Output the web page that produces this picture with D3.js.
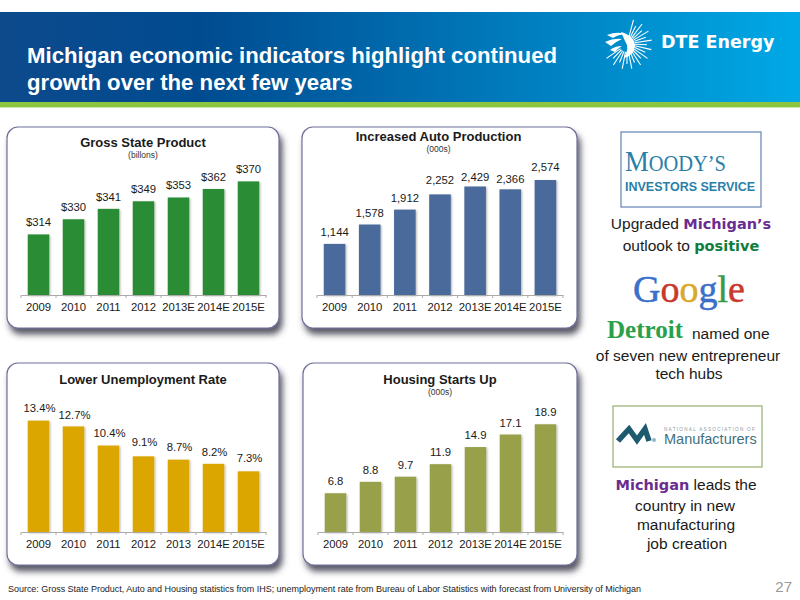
<!DOCTYPE html>
<html>
<head>
<meta charset="utf-8">
<script src="https://cdn.jsdelivr.net/npm/d3@7"></script>
<style>
  html, body { margin: 0; padding: 0; background: #fff; }
  svg { display: block; }
  text { font-family: "Liberation Sans", Arial, sans-serif; fill: #1a1a1a; }
</style>
</head>
<body>
<div id="chart"></div>
<script>
// Categories and values
const yearsE = ["2009", "2010", "2011", "2012", "2013E", "2014E", "2015E"];
const yearsU = ["2009", "2010", "2011", "2012", "2013", "2014E", "2015E"];

const gspValues = [314, 330, 341, 349, 353, 362, 370];
const autoValues = [1144, 1578, 1912, 2252, 2429, 2366, 2574];
const unempValues = [13.4, 12.7, 10.4, 9.1, 8.7, 8.2, 7.3];
const housingValues = [6.8, 8.8, 9.7, 11.9, 14.9, 17.1, 18.9];

const svg = d3.select("#chart").append("svg")
    .attr("width", 800)
    .attr("height", 600);

const defs = svg.append("defs");

// Header gradient
const headerGrad = defs.append("linearGradient").attr("id", "headerGrad");
headerGrad.append("stop").attr("offset", "0%").attr("stop-color", "#0d4a8c");
headerGrad.append("stop").attr("offset", "25%").attr("stop-color", "#004b90");
headerGrad.append("stop").attr("offset", "100%").attr("stop-color", "#00a9e6");

// Panel and bar shadows
const panelShadow = defs.append("filter").attr("id", "panelShadow")
    .attr("x", "-5%").attr("y", "-5%").attr("width", "115%").attr("height", "120%");
panelShadow.append("feDropShadow")
    .attr("dx", 3).attr("dy", 6).attr("stdDeviation", 3)
    .attr("flood-color", "#3d3d4d").attr("flood-opacity", 0.85);

const barShadow = defs.append("filter").attr("id", "barShadow")
    .attr("x", "-20%").attr("y", "-10%").attr("width", "150%").attr("height", "120%");
barShadow.append("feDropShadow")
    .attr("dx", 1).attr("dy", 1).attr("stdDeviation", 0.8)
    .attr("flood-color", "#000").attr("flood-opacity", 0.3);

// ~~~~~~~~~~~~~~~~ HEADER ~~~~~~~~~~~~~~~~~~~~~
svg.append("rect").attr("x", 0).attr("y", 12).attr("width", 800).attr("height", 90)
    .attr("fill", "url(#headerGrad)");
svg.append("rect").attr("x", 0).attr("y", 102).attr("width", 800).attr("height", 5)
    .attr("fill", "#8cc63f");
svg.append("rect").attr("x", 0).attr("y", 107).attr("width", 800).attr("height", 1)
    .attr("fill", "#cfe6a6");

["Michigan economic indicators highlight continued", "growth over the next few years"].forEach((line, i) => {
  svg.append("text")
      .attr("x", 27)
      .attr("y", 63 + i * 27)
      .attr("font-size", 22.2)
      .attr("font-weight", "bold")
      .style("fill", "#fff")
      .text(line);
});

// DTE sunburst, just decoration
const sun = svg.append("g").attr("transform", "translate(627,44)");
d3.range(-75, 150, 11).forEach((deg, i) => {
  const a = deg * Math.PI / 180;
  const r2 = i % 2 ? 20 : 25;
  sun.append("line")
      .attr("x1", 8 * Math.cos(a)).attr("y1", 8 * Math.sin(a))
      .attr("x2", r2 * Math.cos(a)).attr("y2", r2 * Math.sin(a))
      .attr("stroke", "#fff").attr("stroke-width", 1.1);
});
sun.append("path").attr("d", "M-6,-12 Q8,-8 8,2 Q6,12 -3,14 Q3,4 -2,-3 Z").attr("fill", "#fff");
sun.append("path").attr("d", "M-20,-9 Q-10,-13 -2,-10 Q-10,-9 -14,-6 Z M-22,-2 Q-14,-6 -5,-5 Q-12,-2 -16,2 Z M-17,6 Q-12,2 -5,2 Q-10,5 -12,8 Z")
    .attr("fill", "#fff");

svg.append("text")
    .attr("x", 661).attr("y", 48)
    .attr("font-size", 17.5)
    .attr("font-weight", "bold")
    .style("font-family", "'DejaVu Sans'")
    .style("fill", "#fff")
    .text("DTE Energy");

// ~~~~~~~~~~~~~~~~ BAR PANELS ~~~~~~~~~~~~~~~~~~~~~
function drawPanel(opts) {
  const g = svg.append("g");

  g.append("rect")
      .attr("x", opts.box[0]).attr("y", opts.box[1])
      .attr("width", opts.box[2] - opts.box[0]).attr("height", opts.box[3] - opts.box[1])
      .attr("rx", 11)
      .attr("fill", "#fff")
      .attr("stroke", "#6f6f9b")
      .attr("stroke-width", 1.2)
      .attr("filter", "url(#panelShadow)");

  const x = d3.scaleBand()
      .domain(opts.categories)
      .range(opts.xRange)
      .paddingInner(0.385)
      .paddingOuter(0.1925);

  const y = d3.scaleLinear()
      .domain(opts.domain)
      .range([opts.axisY, opts.topY]);

  g.selectAll(".bar")
      .data(opts.values)
      .enter().append("rect")
      .attr("class", "bar")
      .attr("x", (d, i) => x(opts.categories[i]))
      .attr("y", d => y(d))
      .attr("width", x.bandwidth())
      .attr("height", d => opts.axisY - y(d))
      .attr("fill", opts.color)
      .attr("filter", "url(#barShadow)");

  // labels sit a little unevenly on the slide, nudge gives the per-label shift
  g.selectAll(".value")
      .data(opts.values)
      .enter().append("text")
      .attr("class", "value")
      .attr("x", (d, i) => x(opts.categories[i]) + x.bandwidth() / 2 + (opts.labelDx || 0))
      .attr("y", (d, i) => y(d) - (opts.labelGap || 8) + (opts.nudge ? opts.nudge[i] : 0))
      .attr("text-anchor", "middle")
      .attr("font-size", 11.3)
      .text(opts.format);

  // axis labels come from d3, tick marks go on the band edges
  const axis = g.append("g")
      .attr("transform", "translate(0," + opts.axisY + ")")
      .call(d3.axisBottom(x).tickSize(0).tickPadding(8));
  axis.select(".domain").attr("stroke", "#aaa").attr("stroke-width", 1);
  axis.selectAll("text")
      .attr("font-size", 11.3)
      .style("font-family", "'Liberation Sans'")
      .style("fill", "#1a1a1a");

  const edges = d3.range(opts.categories.length + 1).map(i => opts.xRange[0] + i * x.step());
  axis.selectAll(".edge")
      .data(edges)
      .enter().append("line")
      .attr("class", "edge")
      .attr("x1", d => d).attr("x2", d => d)
      .attr("y1", 0).attr("y2", 3)
      .attr("stroke", "#aaa");

  const cx = (opts.box[0] + opts.box[2]) / 2;
  g.append("text")
      .attr("x", cx + (opts.titleDx || 0)).attr("y", opts.titleY)
      .attr("text-anchor", "middle")
      .attr("font-size", 13)
      .attr("font-weight", "bold")
      .text(opts.title);

  if (opts.subtitle) {
    g.append("text")
        .attr("x", cx + (opts.titleDx || 0)).attr("y", opts.titleY + 11)
        .attr("text-anchor", "middle")
        .attr("font-size", 8.5)
        .style("fill", "#333")
        .text(opts.subtitle);
  }
}

drawPanel({
  title: "Gross State Product", subtitle: "(billons)", titleY: 147,
  box: [7, 127, 279, 328], xRange: [21, 266], axisY: 295, topY: 153,
  categories: yearsE, values: gspValues, domain: [250, 400],
  color: "#2c8c35", format: d => "$" + d
});

drawPanel({
  title: "Increased Auto Production", subtitle: "(000s)", titleY: 141, titleDx: -1,
  box: [302, 127, 577, 328], xRange: [317, 563], axisY: 295, topY: 161,
  categories: yearsE, values: autoValues, domain: [0, 3000],
  color: "#4a6b9b", format: d3.format(","), nudge: [0, 0, 0, -2, 2, 2, -1]
});

drawPanel({
  title: "Lower Unemployment Rate", titleY: 384,
  box: [7, 363, 279, 565], xRange: [21, 266], axisY: 532, topY: 399,
  categories: yearsU, values: unempValues, domain: [0, 16], labelGap: 9, labelDx: 1,
  color: "#dca600", format: d => d.toFixed(1) + "%", nudge: [0, 2, 0, -1, 0, 1, 0]
});

drawPanel({
  title: "Housing Starts Up", subtitle: "(000s)", titleY: 384,
  box: [303, 363, 577, 565], xRange: [318, 563], axisY: 532, topY: 418,
  categories: yearsE, values: housingValues, domain: [0, 20],
  color: "#98a04a", format: d => d.toFixed(1)
});

// ~~~~~~~~~~~~~~~~ RIGHT COLUMN ~~~~~~~~~~~~~~~~~~~~~
function sideText(parts, x, y, anchor) {
  const t = svg.append("text")
      .attr("x", x).attr("y", y)
      .attr("text-anchor", anchor || "middle")
      .attr("font-size", 15.5);
  parts.forEach(p => {
    const s = t.append("tspan").text(p.text);
    if (p.color) {
      s.style("fill", p.color)
       .style("font-family", "'DejaVu Sans'")
       .style("font-weight", "bold")
       .attr("font-size", 14.5);
    }
  });
  return t;
}

const purple = "#6a2c91";
const green = "#0f7d3c";

// Moody's box
svg.append("rect").attr("x", 621).attr("y", 132).attr("width", 140).attr("height", 75)
    .attr("fill", "#fff").attr("stroke", "#6d8db8").attr("stroke-width", 1.3);
const moody = svg.append("text").attr("x", 625).attr("y", 171)
    .attr("textLength", 101).attr("lengthAdjust", "spacingAndGlyphs")
    .style("font-family", "'Liberation Serif'").style("fill", "#2a7fa8");
moody.append("tspan").attr("font-size", 30).text("M");
moody.append("tspan").attr("font-size", 23).text("OODY\u2019S");
svg.append("text").attr("x", 625).attr("y", 191)
    .attr("font-size", 12.5).attr("font-weight", "bold")
    .style("fill", "#2a7fa8")
    .text("INVESTORS SERVICE");

sideText([{ text: "Upgraded " }, { text: "Michigan\u2019s", color: purple }], 691, 229);
sideText([{ text: "outlook to " }, { text: "positive", color: green }], 691, 251);

// Google wordmark, one tspan per letter
const googleLetters = ["G", "o", "o", "g", "l", "e"];
const googleColors = ["#3b6fc9", "#c8392b", "#d9a92a", "#3b6fc9", "#3a9a4a", "#c8392b"];
const google = svg.append("text").attr("x", 689).attr("y", 302)
    .attr("text-anchor", "middle")
    .attr("font-size", 38)
    .style("font-family", "'Liberation Serif'");
googleLetters.forEach((l, i) => {
  google.append("tspan").style("fill", googleColors[i])
      .attr("stroke", googleColors[i]).attr("stroke-width", 0.5).text(l);
});

svg.append("text").attr("x", 607).attr("y", 338)
    .attr("font-size", 25).attr("font-weight", "bold")
    .attr("textLength", 76).attr("lengthAdjust", "spacingAndGlyphs")
    .style("font-family", "'Liberation Serif'")
    .style("fill", "#2aa04a")
    .text("Detroit");
sideText([{ text: "named one" }], 692, 339, "start");
sideText([{ text: "of seven new entrepreneur" }], 688, 361);
sideText([{ text: "tech hubs" }], 689, 379);

// NAM box
svg.append("rect").attr("x", 613).attr("y", 406).attr("width", 149).attr("height", 61)
    .attr("fill", "#fff").attr("stroke", "#9db57a").attr("stroke-width", 1.3);
svg.append("path")
    .attr("d", "M618,441 L629,429 L637,440 L645,429 L649,441")
    .attr("fill", "none").attr("stroke", "#1d5a6e").attr("stroke-width", 5.5);
svg.append("circle").attr("cx", 654).attr("cy", 440).attr("r", 2).attr("fill", "#8fb8c6");
svg.append("text").attr("x", 664).attr("y", 431)
    .attr("font-size", 4.6).attr("letter-spacing", 1.3)
    .style("fill", "#8a9aa0")
    .text("NATIONAL ASSOCIATION OF");
svg.append("text").attr("x", 664).attr("y", 444)
    .attr("font-size", 14.5)
    .style("fill", "#3f6f7f")
    .text("Manufacturers");

sideText([{ text: "Michigan", color: purple }, { text: " leads the" }], 686, 490);
sideText([{ text: "country in new" }], 685, 511);
sideText([{ text: "manufacturing" }], 686, 530);
sideText([{ text: " job creation" }], 687, 549);

// ~~~~~~~~~~~~~~~~ FOOTER ~~~~~~~~~~~~~~~~~~~~~
svg.append("text").attr("x", 8).attr("y", 592)
    .attr("font-size", 9)
    .attr("textLength", 633)
    .style("fill", "#222")
    .text("Source: Gross State Product, Auto and Housing statistics from IHS; unemployment rate from Bureau of Labor Statistics with forecast from University of Michigan");
svg.append("text").attr("x", 792).attr("y", 592)
    .attr("text-anchor", "end")
    .attr("font-size", 15)
    .style("fill", "#999")
    .text("27");
</script>
</body>
</html>
